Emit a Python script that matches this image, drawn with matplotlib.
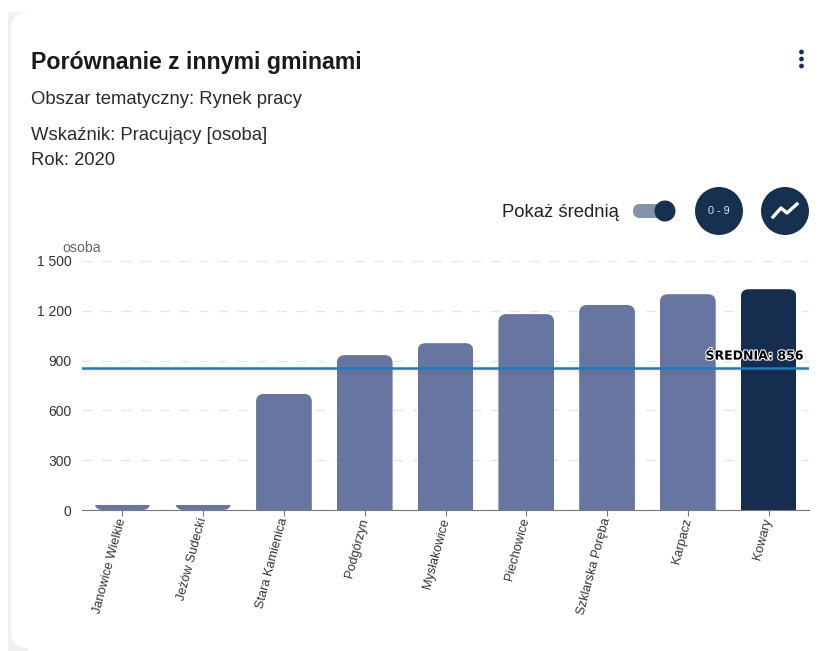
import matplotlib
matplotlib.use("Agg")
import matplotlib.pyplot as plt
from matplotlib.patches import FancyBboxPatch, Rectangle, Circle
import matplotlib.patheffects as pe

plt.rcParams["font.family"] = ["Liberation Sans", "DejaVu Sans"]

categories = ["Janowice Wielkie", "Jeżów Sudecki", "Stara Kamienica", "Podgórzyn", "Mysłakowice",
              "Piechowice", "Szklarska Poręba", "Karpacz", "Kowary"]
values = [33, 33, 700, 933, 1005, 1180, 1235, 1300, 1330]
mean_value = 856
yticks = [0, 300, 600, 900, 1200, 1500]
ytick_labels = ["0", "300", "600", "900", "1 200", "1 500"]

W, H = 824, 651
fig = plt.figure(figsize=(W / 100, H / 100), dpi=100, facecolor="white")

# card and header, in pixel coordinates
bg = fig.add_axes([0, 0, 1, 1])
bg.set_xlim(0, W)
bg.set_ylim(H, 0)
bg.axis("off")
bg.add_patch(Rectangle((8, 12), 20, 639, fc="#f0f0f0", ec="none"))
bg.add_patch(FancyBboxPatch((11, 12), 900, 636, boxstyle="round,pad=0,rounding_size=18",
                            fc="white", ec="none"))
bg.text(31, 62.5, "Porównanie z innymi gminami", fontsize=16.65, fontweight="bold", color="#1a1a1a", va="center")
bg.text(31, 99.5, "Obszar tematyczny: Rynek pracy", fontsize=13.3, color="#2b2b2b", va="center")
bg.text(31, 135.5, "Wskaźnik: Pracujący [osoba]", fontsize=13.3, color="#2b2b2b", va="center")
bg.text(31, 160.5, "Rok: 2020", fontsize=13.3, color="#2b2b2b", va="center")
for y in (52, 59, 66):
    bg.add_patch(Circle((801.5, y), 2.4, fc="#16304f", ec="none"))

bg.text(502, 212.5, "Pokaż średnią", fontsize=13.3, color="#222222", va="center")
bg.add_patch(FancyBboxPatch((633, 204), 36, 14, boxstyle="round,pad=0,rounding_size=7", fc="#8494a8", ec="none"))
bg.add_patch(Circle((665, 211), 10.5, fc="#16304f", ec="none"))
bg.add_patch(Circle((719, 211), 24, fc="#16304f", ec="none"))
bg.text(719, 211.5, "0 - 9", fontsize=7.8, color="#dfe5ec", ha="center", va="center")
bg.add_patch(Circle((785, 211), 24, fc="#16304f", ec="none"))
bg.plot([773, 781, 787, 797], [217, 208, 213, 204], color="white", lw=2.4)

# chart
ax = fig.add_axes([82 / W, 1 - 510 / H, 727 / W, 249 / H])
ax.patch.set_alpha(0)
ax.set_xlim(-0.5, len(categories) - 0.5)
ax.set_ylim(0, 1500)
ax.set_yticks(yticks)
ax.set_yticklabels(ytick_labels, fontsize=10, color="#333333")
ax.set_xticks(range(len(categories)))
ax.set_xticklabels(categories, rotation=75, ha="right", va="center", rotation_mode="anchor",
                   fontsize=9.2, color="#333333")
ax.tick_params(axis="y", length=0, pad=7.5)
ax.tick_params(axis="x", length=4, color="#777777", pad=2)
ax.grid(axis="y", color="#e6e6e6", lw=1, dashes=(7, 7))
ax.set_axisbelow(True)
for s in ("top", "right", "left"):
    ax.spines[s].set_visible(False)
ax.spines["bottom"].set_color("#777777")

px_x = 727 / len(categories)
px_y = 249 / 1500
ax.text(-0.5 - 20 / px_x, 1500 + 6 / px_y, "osoba", fontsize=10.2, color="#666666", ha="left", va="bottom",
        clip_on=False)

bar_w = 0.69
# x and y scales differ, so the corner radius gets an aspect correction
radius = 8 / px_x
aspect = px_x / px_y
for i, v in enumerate(values):
    color = "#152e4f" if i == len(values) - 1 else "#6676a1"
    x0 = i - bar_w / 2
    if v < 100:
        # short bar: only the lower corners of the box remain
        box = FancyBboxPatch((x0, 0), bar_w, 400, boxstyle=f"round,pad=0,rounding_size={radius}",
                             mutation_aspect=aspect, fc=color, ec="none", zorder=2)
    else:
        box = FancyBboxPatch((x0, -200), bar_w, v + 200, boxstyle=f"round,pad=0,rounding_size={radius}",
                             mutation_aspect=aspect, fc=color, ec="none", zorder=2)
    ax.add_patch(box)
    box.set_clip_path(Rectangle((x0, 0), bar_w, v, transform=ax.transData))

# soft shadow under the mean line
ax.axhline(mean_value - 18, color="#000000", lw=5, alpha=0.03, zorder=3)
ax.axhline(mean_value, color="#1f78c0", lw=1.8, zorder=3)
ax.text(len(categories) - 0.5 - 6 / px_x, mean_value + 32, f"ŚREDNIA: {mean_value}", fontsize=9,
        fontweight="bold", color="black", ha="right", va="bottom", zorder=4, family="DejaVu Sans",
        path_effects=[pe.withStroke(linewidth=1.5, foreground="white")])

fig.savefig("out.png", dpi=100)
